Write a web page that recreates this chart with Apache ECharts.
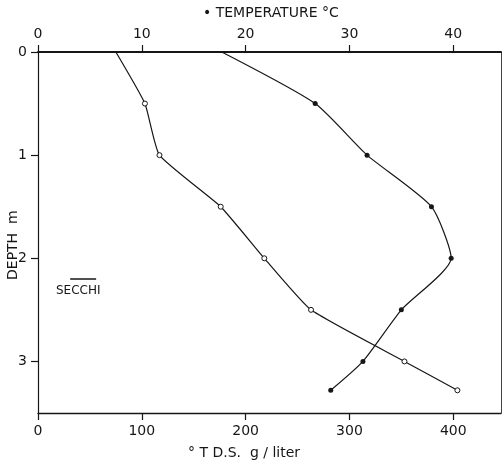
<!DOCTYPE html>
<html>
<head>
<meta charset="utf-8">
<script src="https://cdn.jsdelivr.net/npm/echarts@6/dist/echarts.min.js"></script>
<style>
html,body{margin:0;padding:0;background:#fff;}
#c{width:503px;height:468px;}
</style>
</head>
<body>
<div id="c"></div>
<script>
// Data
const depths = [0, 0.5, 1, 1.5, 2, 2.5, 3, 3.28];
const tdsValues = [75, 103, 117, 176, 218, 263, 353, 404];
const tempValues = [17.7, 26.7, 31.7, 37.9, 39.8, 35.0, 31.3, 28.2];
const tdsTicks = [0, 100, 200, 300, 400];
const tempTicks = [0, 10, 20, 30, 40];
const depthTicks = [0, 1, 2, 3];
const secchiDepth = 2.2;
const secchiTds = [31, 56];

const FONT = 'DejaVu Sans';
const INK = '#161616';

const tdsData = depths.map((d, i) => (i === 0
  ? { value: [tdsValues[i], d], symbol: 'none' }
  : [tdsValues[i], d]));
const tempData = depths.map((d, i) => (i === 0
  ? { value: [tempValues[i], d], symbol: 'none' }
  : [tempValues[i], d]));
const secchiData = secchiTds.map(v => [v, secchiDepth]);

const chart = echarts.init(document.getElementById('c'), null, { renderer: 'canvas' });

const axisText = { fontFamily: FONT, fontSize: 14, color: INK };

chart.setOption({
  animation: false,
  backgroundColor: '#fff',
  grid: { left: 38, right: 2, top: 52, bottom: 55, containLabel: false },
  xAxis: [
    {
      type: 'value', position: 'bottom', min: 0, max: 446,
      axisLine: { show: true, onZero: false, lineStyle: { color: INK, width: 1.3 } },
      axisTick: { show: true, length: 7, customValues: tdsTicks, lineStyle: { color: INK, width: 1.2 } },
      axisLabel: Object.assign({ margin: 11, customValues: tdsTicks }, axisText),
      splitLine: { show: false }
    },
    {
      type: 'value', position: 'top', min: 0, max: 44.6,
      axisLine: { show: true, onZero: false, lineStyle: { color: INK, width: 1.8 } },
      axisTick: { show: true, length: 7, customValues: tempTicks, lineStyle: { color: INK, width: 1.2 } },
      axisLabel: Object.assign({ margin: 11, customValues: tempTicks }, axisText),
      splitLine: { show: false }
    }
  ],
  yAxis: [
    {
      type: 'value', inverse: true, min: 0, max: 3.5, position: 'left',
      axisLine: { show: true, onZero: false, lineStyle: { color: INK, width: 1.2 } },
      axisTick: { show: true, length: 7, customValues: depthTicks, lineStyle: { color: INK, width: 1.2 } },
      axisLabel: Object.assign({ margin: 11, customValues: depthTicks }, axisText),
      splitLine: { show: false }
    },
    {
      type: 'value', inverse: true, min: 0, max: 3.5, position: 'right',
      axisLine: { show: true, onZero: false, lineStyle: { color: '#444', width: 1 } },
      axisTick: { show: false },
      axisLabel: { show: false },
      splitLine: { show: false }
    }
  ],
  series: [
    {
      name: 'T.D.S.', type: 'line', xAxisIndex: 0, yAxisIndex: 0,
      data: tdsData, smooth: 0.15,
      symbol: 'circle', symbolSize: 5,
      itemStyle: { color: '#fff', borderColor: INK, borderWidth: 1 },
      lineStyle: { color: INK, width: 1.2 },
      z: 3
    },
    {
      name: 'Temperature', type: 'line', xAxisIndex: 1, yAxisIndex: 0,
      data: tempData, smooth: 0.2,
      symbol: 'circle', symbolSize: 5,
      itemStyle: { color: INK, borderColor: INK, borderWidth: 0 },
      lineStyle: { color: INK, width: 1.2 },
      z: 3
    },
    {
      name: 'Secchi', type: 'line', xAxisIndex: 0, yAxisIndex: 0,
      data: secchiData, symbol: 'none',
      lineStyle: { color: INK, width: 1.5 },
      z: 3
    }
  ],
  graphic: [
    { type: 'text', left: 203, top: 6,
      style: { text: '• TEMPERATURE °C', fontFamily: FONT, fontSize: 14, fill: INK } },
    { type: 'text', left: 188, top: 446,
      style: { text: '° T D.S.  g / liter', fontFamily: FONT, fontSize: 14, fill: INK } },
    { type: 'text', x: 6, y: 280, rotation: Math.PI / 2,
      style: { text: 'DEPTH  m', fontFamily: FONT, fontSize: 14, fill: INK, textVerticalAlign: 'top' } },
    { type: 'text', left: 56, top: 285,
      style: { text: 'SECCHI', fontFamily: FONT, fontSize: 12, fill: INK } }
  ]
});
</script>
</body>
</html>
